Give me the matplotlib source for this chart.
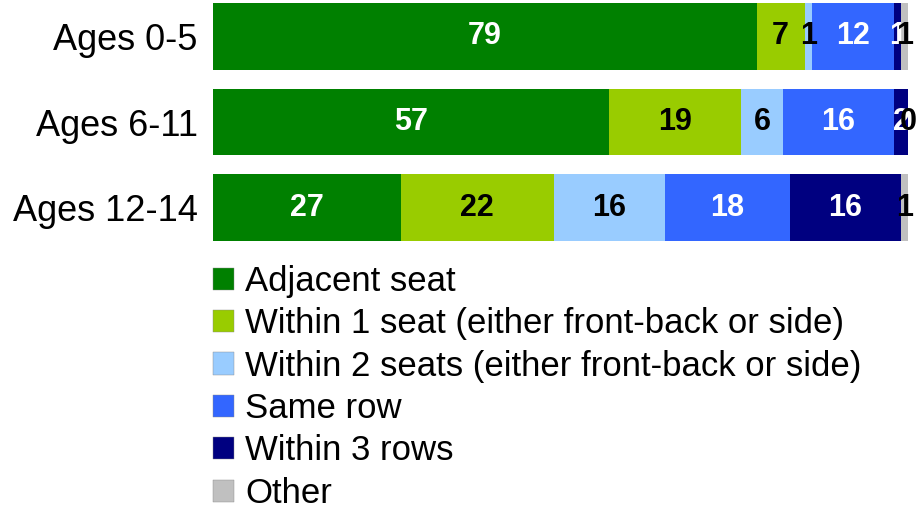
import matplotlib
matplotlib.use("Agg")
import matplotlib.pyplot as plt
import numpy as np
from matplotlib.patches import Patch

plt.rcParams['font.family'] = ['Liberation Sans', 'DejaVu Sans']

categories = ["Ages 0-5", "Ages 6-11", "Ages 12-14"]
series_names = ["Adjacent seat",
                "Within 1 seat (either front-back or side)",
                "Within 2 seats (either front-back or side)",
                "Same row",
                "Within 3 rows",
                "Other"]
adjacent = [79, 57, 27]
within1 = [7, 19, 22]
within2 = [1, 6, 16]
same_row = [12, 16, 18]
within3rows = [1, 2, 16]
other = [1, 0, 1]

colors = ["#008000", "#99CC00", "#99CCFF", "#3366FF", "#000080", "#C0C0C0"]
label_colors = ["white", "black", "black", "white", "white", "black"]

data = np.array([adjacent, within1, within2, same_row, within3rows, other], dtype=float)
totals = data.sum(axis=0)
pct = data / totals * 100

fig = plt.figure(figsize=(9.19, 5.12), dpi=100)
ax = fig.add_axes([213/919, 1 - 241/512, 695/919, 238/512])

y = np.arange(len(categories))
left = np.zeros(len(categories))
for i in range(len(series_names)):
    ax.barh(y, pct[i], left=left, height=0.78, color=colors[i], label=series_names[i])
    for j in range(len(categories)):
        cx = left[j] + pct[i][j] / 2
        ax.text(cx, y[j], f"{int(data[i][j])}", ha="center", va="center",
                fontsize=22, fontweight="bold", color=label_colors[i])
    left += pct[i]

ax.set_xlim(0, 100)
ax.set_ylim(2.39, -0.39)
ax.set_yticks(y)
ax.set_yticklabels(categories, fontsize=26)
ax.tick_params(axis='y', length=0, pad=11)
ax.set_xticks([])
for s in ax.spines.values():
    s.set_visible(False)

handles = [Patch(facecolor=c, edgecolor="#888888", linewidth=0.3) for c in colors]
fig.legend(handles, series_names, loc="upper left", bbox_to_anchor=(213/919, 1 - 265/512),
           frameon=False, fontsize=25, handlelength=0.6, handleheight=0.6,
           handletextpad=0.32, labelspacing=0.27, borderpad=0, borderaxespad=0)

fig.savefig("out.png", dpi=100)
